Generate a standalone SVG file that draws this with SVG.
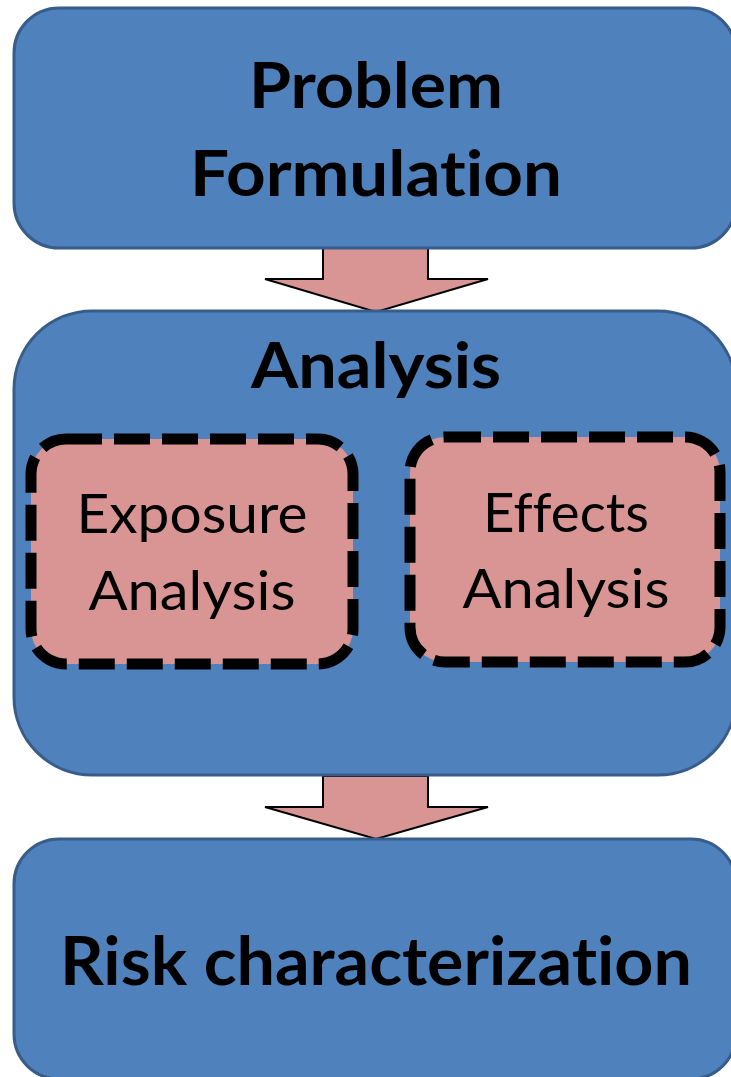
<svg xmlns="http://www.w3.org/2000/svg" width="731" height="1077" viewBox="0 0 731 1077">
<style>
.main{fill:#4f81bd;stroke:#385d8a;stroke-width:3}
.sub{fill:#d99594;stroke:#000;stroke-width:11;stroke-dasharray:36 12}
.arrow{fill:#d99594;stroke:#000;stroke-width:2;stroke-linejoin:miter}
.b{font-family:Lato,"Liberation Sans",sans-serif;font-weight:bold;fill:#000;text-anchor:middle;font-variant-ligatures:none;font-feature-settings:"liga" 0}
.r{font-family:Lato,"Liberation Sans",sans-serif;font-weight:normal;fill:#000;text-anchor:middle;font-variant-ligatures:none;font-feature-settings:"liga" 0}
</style>
<rect width="731" height="1077" fill="#fff"/>
<g id="connectors">
<polygon class="arrow" points="323,248 428,248 428,279 488,279 376,312 265,279 323,279"/>
<polygon class="arrow" points="323,776 428,776 428,807 488,807 376,839 265,807 323,807"/>
</g>
<g id="problem-formulation">
<rect class="main" x="14" y="8" width="722" height="240" rx="45" ry="45"/>
<text class="b" x="376" y="108" font-size="64" textLength="254" lengthAdjust="spacingAndGlyphs">Problem</text>
<text class="b" x="376" y="196" font-size="64" textLength="372" lengthAdjust="spacingAndGlyphs">Formulation</text>
</g>
<g id="analysis">
<rect class="main" x="14" y="311" width="722" height="464" rx="78" ry="78"/>
<text class="b" x="376" y="388" font-size="64" textLength="250" lengthAdjust="spacingAndGlyphs">Analysis</text>
</g>
<g id="exposure-analysis">
<rect class="sub" x="31" y="439" width="322" height="225" rx="35" ry="35"/>
<text class="r" x="192" y="533" font-size="54" textLength="231" lengthAdjust="spacingAndGlyphs">Exposure</text>
<text class="r" x="192" y="610" font-size="54" textLength="207" lengthAdjust="spacingAndGlyphs">Analysis</text>
</g>
<g id="effects-analysis">
<rect class="sub" x="410" y="437" width="310" height="225" rx="35" ry="35"/>
<text class="r" x="566" y="532" font-size="54" textLength="166" lengthAdjust="spacingAndGlyphs">Effects</text>
<text class="r" x="566" y="608" font-size="54" textLength="207" lengthAdjust="spacingAndGlyphs">Analysis</text>
</g>
<g id="risk-characterization">
<rect class="main" x="14" y="839" width="722" height="240" rx="45" ry="45"/>
<text class="b" x="376" y="985" font-size="66" textLength="632" lengthAdjust="spacingAndGlyphs">Risk characterization</text>
</g>
</svg>
